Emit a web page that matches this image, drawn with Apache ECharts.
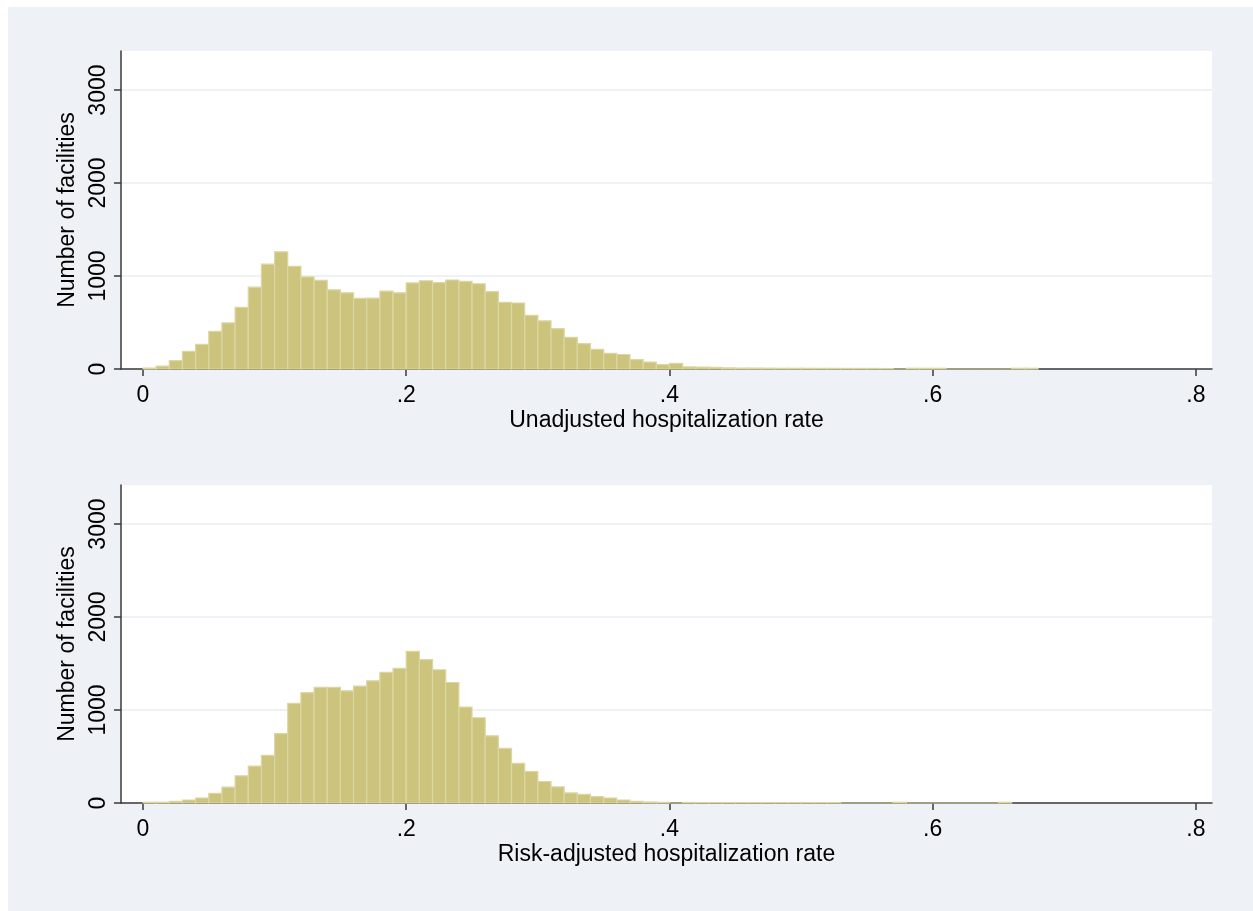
<!DOCTYPE html>
<html>
<head>
<meta charset="utf-8">
<script src="https://cdn.jsdelivr.net/npm/echarts@6/dist/echarts.min.js"></script>
<style>
html,body{margin:0;padding:0;background:#fff;width:1253px;height:911px;overflow:hidden;}
#bg{position:absolute;left:8px;top:7px;right:0;bottom:0;background:#eef1f6;}
#chart{position:absolute;left:0;top:0;width:1253px;height:911px;}
</style>
</head>
<body>
<div id="bg"></div>
<div id="chart"></div>
<script>
// Histogram bin width (hospitalization rate units)
var binWidth = 0.01;
// Counts per bin, starting at rate 0
var unadjustedCounts = [10,30,90,190,265,405,495,663,880,1127,1260,1105,990,953,851,819,760,762,837,819,
  926,949,928,957,942,917,833,717,710,576,518,435,340,272,210,167,156,101,75,48,
  60,22,20,18,12,10,10,9,8,8,8,7,7,6,6,6,5,0,8,8,
  8,0,0,0,0,0,8,8];
var riskAdjustedCounts = [8,8,18,32,54,105,170,292,397,513,747,1072,1188,1245,1245,1206,1256,1314,1404,1448,
  1632,1542,1433,1296,1032,917,722,588,426,339,231,173,108,94,69,54,32,18,11,7,
  0,6,5,5,5,5,5,5,5,5,5,5,5,0,0,0,0,8,0,0,
  0,0,0,0,0,8];
var xTicks = [0, 0.2, 0.4, 0.6, 0.8];
var yTicks = [0, 1000, 2000, 3000];
var xTitles = ['Unadjusted hospitalization rate', 'Risk-adjusted hospitalization rate'];
var yTitle = 'Number of facilities';

function toBins(counts){
  return counts.map(function(c, i){ return [i*binWidth, (i+1)*binWidth, c]; });
}
function fmtX(v){
  if (Math.abs(v) < 1e-9) return '0';
  return String(Math.round(v*10)/10).replace(/^0/, '');
}
function fmtY(v){ return String(Math.round(v)); }
var FONT = "'Liberation Sans', Arial, sans-serif";
var FS = 23;

function renderItem(params, api){
  var x0 = api.value(0), x1 = api.value(1), v = api.value(2);
  var p0 = api.coord([x0, v]);
  var p1 = api.coord([x1, 0]);
  return {
    type: 'rect',
    shape: {x: p0[0], y: p0[1], width: p1[0]-p0[0], height: p1[1]-p0[1]},
    style: {fill: '#ccc47d', stroke: '#dcd6a3', lineWidth: 1.2}
  };
}

function makeX(idx){
  return {
    type: 'value', gridIndex: idx, min: -0.0167, max: 0.8122,
    name: xTitles[idx], nameLocation: 'middle', nameGap: 40,
    nameTextStyle: {fontSize: FS, color: '#000', fontFamily: FONT},
    axisLine: {show: true, onZero: false, lineStyle: {color: '#3a3a3a', width: 1.5}},
    axisTick: {show: true, length: 7, customValues: xTicks, lineStyle: {color: '#3a3a3a', width: 1.5}},
    axisLabel: {customValues: xTicks, formatter: fmtX, fontSize: FS, color: '#000', fontFamily: FONT, margin: 15},
    splitLine: {show: false}
  };
}
function makeY(idx){
  return {
    type: 'value', gridIndex: idx, min: 0, max: 3420, interval: 1000,
    name: yTitle, nameLocation: 'middle', nameGap: 41, nameRotate: 90,
    nameTextStyle: {fontSize: FS, color: '#000', fontFamily: FONT},
    axisLine: {show: true, onZero: false, lineStyle: {color: '#3a3a3a', width: 1.5}},
    axisTick: {show: true, length: 7, customValues: yTicks, lineStyle: {color: '#3a3a3a', width: 1.5}},
    axisLabel: {customValues: yTicks, formatter: fmtY, rotate: 90, fontSize: FS, color: '#000', fontFamily: FONT, margin: 11},
    splitLine: {show: true, lineStyle: {color: '#e9eef4', width: 1.5}}
  };
}

var chart = echarts.init(document.getElementById('chart'), null, {renderer: 'canvas'});
chart.setOption({
  backgroundColor: 'transparent',
  animation: false,
  grid: [
    {left: 121, top: 51, width: 1091, height: 318, show: true, backgroundColor: '#ffffff', borderWidth: 0},
    {left: 121, top: 485, width: 1091, height: 318, show: true, backgroundColor: '#ffffff', borderWidth: 0}
  ],
  xAxis: [makeX(0), makeX(1)],
  yAxis: [makeY(0), makeY(1)],
  series: [
    {type: 'custom', xAxisIndex: 0, yAxisIndex: 0, renderItem: renderItem,
     encode: {x: [0,1], y: 2}, data: toBins(unadjustedCounts), z: 1},
    {type: 'custom', xAxisIndex: 1, yAxisIndex: 1, renderItem: renderItem,
     encode: {x: [0,1], y: 2}, data: toBins(riskAdjustedCounts), z: 1}
  ]
});
</script>
</body>
</html>
